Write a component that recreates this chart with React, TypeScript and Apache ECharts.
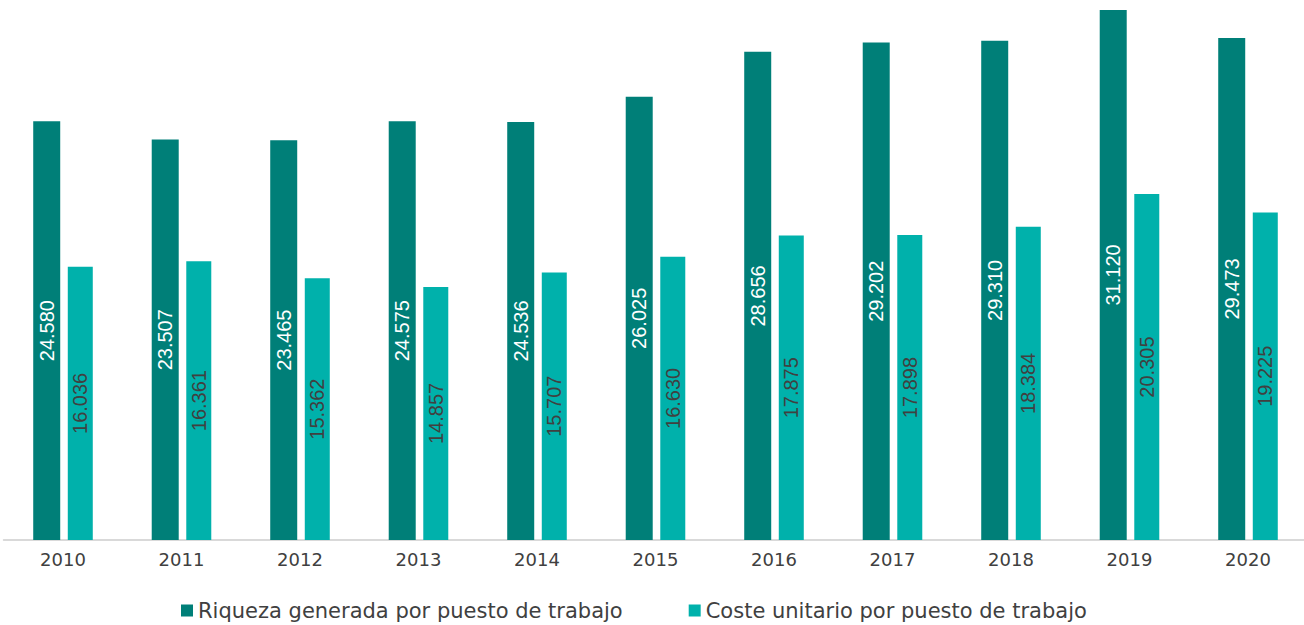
import React, { useEffect, useRef } from "react";
import * as echarts from "echarts";

const years = ["2010","2011","2012","2013","2014","2015","2016","2017","2018","2019","2020"];
const riqueza = [24580, 23507, 23465, 24575, 24536, 26025, 28656, 29202, 29310, 31120, 29473];
const coste = [16036, 16361, 15362, 14857, 15707, 16630, 17875, 17898, 18384, 20305, 19225];
const seriesNames = ["Riqueza generada por puesto de trabajo", "Coste unitario por puesto de trabajo"];

const fmt = (v: number) => {
  const s = String(Math.round(v));
  return s.replace(/\B(?=(\d{3})+(?!\d))/g, ".");
};

const FONT = "DejaVu Sans";
const LABEL_FONT = "Liberation Sans";

export default function App() {
  const ref = useRef<HTMLDivElement>(null);
  useEffect(() => {
    if (!ref.current) return;
    const chart = echarts.init(ref.current, undefined, { renderer: "svg" });
    chart.setOption({
      animation: false,
      textStyle: { fontFamily: FONT },
      grid: { left: 3.75, width: 1303.5, top: 0, bottom: 85, containLabel: false },
      legend: {
        left: 176,
        top: 595,
        itemWidth: 12,
        itemHeight: 12,
        itemGap: 66,
        icon: "rect",
        textStyle: { fontFamily: FONT, fontSize: 21, color: "#404040" },
        data: seriesNames,
      },
      xAxis: {
        type: "category",
        data: years,
        axisLine: { lineStyle: { color: "#d9d9d9", width: 2 } },
        axisTick: { show: false },
        axisLabel: { color: "#404040", fontSize: 18, margin: 10, fontFamily: FONT },
      },
      yAxis: {
        type: "value",
        min: 0,
        max: 31700,
        show: false,
        splitLine: { show: false },
      },
      series: [
        {
          name: seriesNames[0],
          type: "bar",
          data: riqueza,
          barWidth: 27,
          barGap: "28%",
          itemStyle: { color: "#007f78" },
          label: {
            show: true,
            position: "inside",
            rotate: 90,
            color: "#ffffff",
            fontSize: 20,
            fontFamily: LABEL_FONT,
            formatter: (p: any) => fmt(p.value),
          },
        },
        {
          name: seriesNames[1],
          type: "bar",
          data: coste,
          barWidth: 25,
          itemStyle: { color: "#00b1ab" },
          label: {
            show: true,
            position: "inside",
            rotate: 90,
            color: "#404040",
            fontSize: 20,
            fontFamily: LABEL_FONT,
            formatter: (p: any) => fmt(p.value),
          },
        },
      ],
    });
    return () => chart.dispose();
  }, []);
  return (
    <div
      style={{ position: "fixed", left: 0, top: 0, width: 1304, height: 625, overflow: "hidden", background: "#ffffff" }}
    >
      <div ref={ref} style={{ width: 1310, height: 625 }} />
    </div>
  );
}
